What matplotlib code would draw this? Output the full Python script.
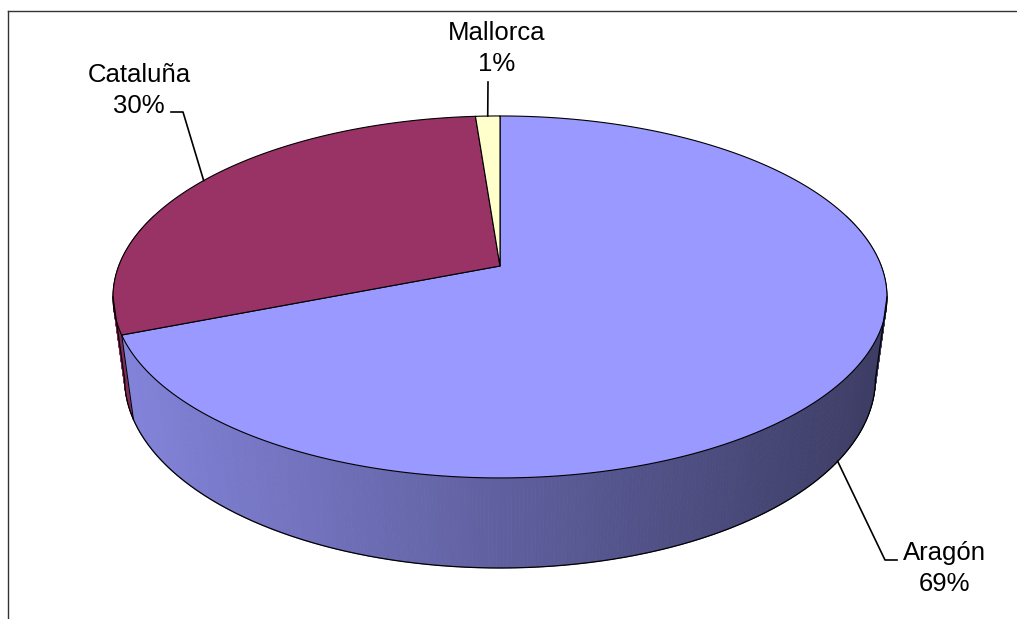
import numpy as np
import matplotlib
matplotlib.use("Agg")
import matplotlib.pyplot as plt
from matplotlib.collections import PolyCollection
from matplotlib.patches import Polygon

plt.rcParams['font.family'] = ['Liberation Sans', 'DejaVu Sans']

# datos
regiones = ['Aragón', 'Cataluña', 'Mallorca']
valores = [69.0, 29.8, 1.2]
colores = ['#9999FF', '#993366', '#FFFFCC']

# geometria del pastel 3D (pixeles de la imagen)
CX, CY = 500.0, 266.0
A, B = 381.3, 175.7
K = 0.171      # perspectiva
M = 0.03       # estrechamiento de la base
H = 83.7       # grosor


def proj(theta, depth):
    t = np.radians(theta)
    u = np.cos(t)
    v = -np.sin(t)
    w = 1 - K * v + M * depth
    return CX + A * u / w, CY + (B * v + H * depth) / w


def shade(x):
    f = 0.86 - 0.47 * (x - 113) / 775.0
    return min(max(f, 0.3), 0.9)


fracs = np.array(valores) / sum(valores)
starts = 90 - 360 * np.concatenate([[0], np.cumsum(fracs)[:-1]])
ends = starts - 360 * fracs


def slice_of(theta):
    # angulo -> indice de porcion
    th = (90 - theta) % 360
    acc = np.cumsum(fracs) * 360
    return int(np.searchsorted(acc, th, side='right').clip(0, len(fracs) - 1))


fig = plt.figure(figsize=(10.17, 6.19), dpi=100)
ax = fig.add_axes([0, 0, 1, 1])
ax.set_xlim(0, 1017)
ax.set_ylim(619, 0)
ax.axis('off')

# marco
ax.plot([8, 1017], [11, 11], color='#333333', lw=1)
ax.plot([8, 8], [11, 619], color='#333333', lw=1)

# lateral
N = 720
th = np.linspace(0, 360, N + 1)
quads = []
cols = []
keys = []
for i in range(N):
    t1, t2 = th[i], th[i + 1]
    tm = (t1 + t2) / 2
    v = -np.sin(np.radians(tm))
    if v < -0.3:
        continue
    p1 = proj(t1, 0); p2 = proj(t2, 0); p3 = proj(t2, 1); p4 = proj(t1, 1)
    quads.append([p1, p2, p3, p4])
    base = np.array(matplotlib.colors.to_rgb(colores[slice_of(tm)]))
    xm = (p1[0] + p2[0]) / 2
    cols.append(tuple(base * shade(xm)))
    keys.append(v)
order = np.argsort(keys)
quads = [quads[i] for i in order]
cols = [cols[i] for i in order]
ax.add_collection(PolyCollection(quads, facecolors=cols, edgecolors=cols, lw=0.6))

# bordes del lateral
tl = 180 + np.degrees(np.arcsin(K))
tr = 360 - np.degrees(np.arcsin(K))
arc = np.linspace(tl, tr, 300)
bx, by = proj(arc, 1)
ax.plot(bx, by, color='black', lw=0.9)
for t in (tl, tr):
    x0, y0 = proj(t, 0); x1, y1 = proj(t, 1)
    ax.plot([x0, x1], [y0, y1], color='black', lw=0.9)
for s in starts:
    s = s % 360
    if tl < s < tr:
        x0, y0 = proj(s, 0); x1, y1 = proj(s, 1)
        ax.plot([x0, x1], [y0, y1], color='black', lw=0.8)

# cara superior
for i in range(len(valores)):
    a = np.linspace(starts[i], ends[i], 200)
    px, py = proj(a, 0)
    pts = np.column_stack([np.r_[CX, px], np.r_[CY, py]])
    ax.add_patch(Polygon(pts, closed=True, facecolor=colores[i],
                         edgecolor='black', lw=0.8, joinstyle='round'))

# etiquetas
mids = (starts + ends) / 2
etiq = {
    'Aragón': dict(depth=1, codo=[(885, 560), (897, 560)], txt=(944, 560)),
    'Cataluña': dict(depth=0, codo=[(183, 112), (171, 112)], txt=(139, 82)),
    'Mallorca': dict(depth=0, codo=[(488, 82)], txt=(497, 40)),
}
for i, r in enumerate(regiones):
    e = etiq[r]
    x0, y0 = proj(mids[i], e['depth'])
    xs = [x0] + [c[0] for c in e['codo']]
    ys = [y0] + [c[1] for c in e['codo']]
    ax.plot(xs, ys, color='black', lw=1.2)
    pct = '%d%%' % round(fracs[i] * 100)
    tx, ty = e['txt']
    ax.text(tx, ty, r, ha='center', va='baseline', fontsize=18.5)
    ax.text(tx, ty + 31, pct, ha='center', va='baseline', fontsize=18.5)

fig.savefig('out.png', dpi=100)
